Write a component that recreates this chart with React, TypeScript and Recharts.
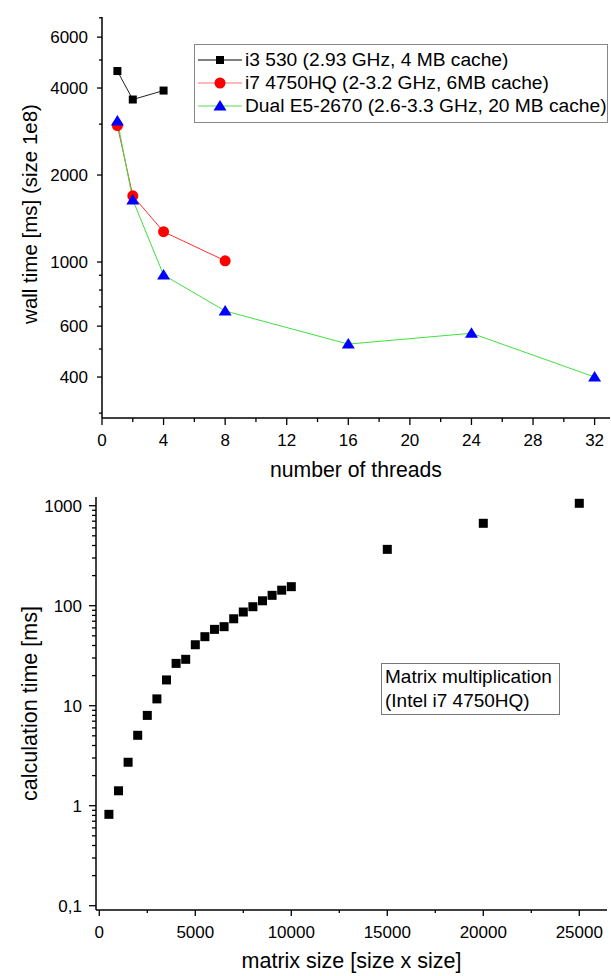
import React from 'react';
import { LineChart, Line, ScatterChart, Scatter, XAxis, YAxis, Legend, Label } from 'recharts';

const FONT = '"Liberation Sans", Arial, Helvetica, sans-serif';

// top plot: wall time vs number of threads
const threadsI3 = [1, 2, 4];
const wallI3 = [4580, 3650, 3920];
const threadsI7 = [1, 2, 4, 8];
const wallI7 = [2965, 1694, 1273, 1010];
const threadsE5 = [1, 2, 4, 8, 16, 24, 32];
const wallE5 = [3077, 1640, 902, 677, 520, 567, 400];

const threadTicks = [0, 2, 4, 6, 8, 10, 12, 14, 16, 18, 20, 22, 24, 26, 28, 30, 32];
const threadLabels = [0, 4, 8, 12, 16, 20, 24, 28, 32];
const wallTicks = [300, 400, 500, 600, 700, 800, 900, 1000, 2000, 3000, 4000, 5000, 6000, 7000];
const wallLabels = [400, 600, 1000, 2000, 4000, 6000];

const legendNames = [
  'i3 530 (2.93 GHz, 4 MB cache)',
  'i7 4750HQ (2-3.2 GHz, 6MB cache)',
  'Dual E5-2670 (2.6-3.3 GHz, 20 MB cache)',
];

// bottom plot: matrix multiplication time
const matrixSizes = [500, 1000, 1500, 2000, 2500, 3000, 3500, 4000, 4500, 5000, 5500, 6000, 6500, 7000, 7500, 8000, 8500, 9000, 9500, 10000, 15000, 20000, 25000];
const calcTimes = [0.82, 1.41, 2.72, 5.06, 8.0, 11.7, 18.1, 26.5, 29.1, 40.7, 49, 58, 61.7, 74, 86.5, 97.7, 112, 127, 143, 155, 366, 667, 1057];

const sizeTicks = [0, 2500, 5000, 7500, 10000, 12500, 15000, 17500, 20000, 22500, 25000];
const sizeLabels = [0, 5000, 10000, 15000, 20000, 25000];
const timeTicks = [0.1, 0.2, 0.3, 0.4, 0.5, 0.6, 0.7, 0.8, 0.9, 1, 2, 3, 4, 5, 6, 7, 8, 9, 10, 20, 30, 40, 50, 60, 70, 80, 90, 100, 200, 300, 400, 500, 600, 700, 800, 900, 1000];
const timeLabels = [0.1, 1, 10, 100, 1000];

const i3Data = threadsI3.map((x, i) => ({ x, y: wallI3[i] }));
const i7Data = threadsI7.map((x, i) => ({ x, y: wallI7[i] }));
const e5Data = threadsE5.map((x, i) => ({ x, y: wallE5[i] }));
const matrixData = matrixSizes.map((x, i) => ({ x, y: calcTimes[i] }));

const fmt = (v: number) => String(v).replace('.', ',');

const XTick = (props: any) => {
  const { x, y, payload, labels, major = 7, minor = 4, dy = 28 } = props;
  const isMajor = labels.includes(payload.value);
  return (
    <g>
      <line x1={x} x2={x} y1={y} y2={y + (isMajor ? major : minor)} stroke="#000" strokeWidth={1.3} />
      {isMajor && (
        <text x={x} y={y + dy} textAnchor="middle" fontSize={17} fontFamily={FONT} fill="#000">
          {fmt(payload.value)}
        </text>
      )}
    </g>
  );
};

const YTick = (props: any) => {
  const { x, y, payload, labels, major = 5, minor = 3 } = props;
  const isMajor = labels.includes(payload.value);
  return (
    <g>
      <line x1={x - (isMajor ? major : minor)} x2={x} y1={y} y2={y} stroke="#000" strokeWidth={1.3} />
      {isMajor && (
        <text x={x - 14} y={y + 6} textAnchor="end" fontSize={17} fontFamily={FONT} fill="#000">
          {fmt(payload.value)}
        </text>
      )}
    </g>
  );
};

const square = (size: number) => (p: any) => (
  <rect key={`s-${p.index}-${p.cx}`} x={p.cx - size / 2} y={p.cy - size / 2} width={size} height={size} fill="#000" />
);
const circle = (p: any) => <circle key={`c-${p.index}`} cx={p.cx} cy={p.cy} r={5.5} fill="#ff0000" />;
const triangle = (p: any) => (
  <polygon
    key={`t-${p.index}`}
    points={`${p.cx},${p.cy - 6} ${p.cx - 6.5},${p.cy + 4.5} ${p.cx + 6.5},${p.cy + 4.5}`}
    fill="#0000ff"
  />
);

function LegendBox() {
  const markers = [
    <rect x={19} y={6} width={8} height={8} fill="#000" />,
    <circle cx={23} cy={10} r={5.5} fill="#ff0000" />,
    <polygon points="23,4 16.5,14.5 29.5,14.5" fill="#0000ff" />,
  ];
  const lineColors = ['#000', '#ff7070', '#50e050'];
  return (
    <div style={{ border: '1px solid #888', background: '#fff', width: 412, height: 74, paddingTop: 3, boxSizing: 'content-box' }}>
      {legendNames.map((name, i) => (
        <div key={name} style={{ display: 'flex', alignItems: 'center', height: 23.3 }}>
          <svg width={48} height={20} style={{ marginLeft: 2 }}>
            <line x1={1} x2={45} y1={10} y2={10} stroke={lineColors[i]} strokeWidth={1} />
            {markers[i]}
          </svg>
          <span style={{ fontFamily: FONT, fontSize: 19.2, color: '#000', whiteSpace: 'nowrap', lineHeight: '20px' }}>{name}</span>
        </div>
      ))}
    </div>
  );
}

export default function App() {
  return (
    <div style={{ position: 'absolute', left: 0, top: 0, width: 611, height: 976, background: '#fff', overflow: 'hidden' }}>
      <div style={{ position: 'absolute', left: 0, top: 0 }}>
        <LineChart width={611} height={492} margin={{ top: 17, right: 1, left: 0, bottom: 0 }}>
          <XAxis
            type="number"
            dataKey="x"
            domain={[0, 33]}
            allowDataOverflow
            ticks={threadTicks}
            interval={0}
            height={74}
            tickSize={0}
            tickMargin={0}
            tickLine={false}
            axisLine={{ stroke: '#000', strokeWidth: 1.5 }}
            tick={<XTick labels={threadLabels} major={7} minor={4} dy={28} />}
          >
            <Label
              content={(p: any) => (
                <text x={p.viewBox.x + p.viewBox.width / 2} y={p.viewBox.y + 59} textAnchor="middle" fontSize={21.2} fontFamily={FONT} fill="#000">
                  number of threads
                </text>
              )}
            />
          </XAxis>
          <YAxis
            type="number"
            dataKey="y"
            scale="log"
            domain={[288.6, 7044]}
            allowDataOverflow
            ticks={wallTicks}
            interval={0}
            width={102}
            tickSize={0}
            tickMargin={0}
            tickLine={false}
            axisLine={{ stroke: '#000', strokeWidth: 1.5 }}
            tick={<YTick labels={wallLabels} major={5} minor={3} />}
          >
            <Label
              content={(p: any) => {
                const cy = p.viewBox.y + p.viewBox.height / 2 - 3.5;
                return (
                  <text x={36.5} y={cy} transform={`rotate(-90 36.5 ${cy})`} textAnchor="middle" fontSize={20.5} fontFamily={FONT} fill="#000">
                    wall time [ms] (size 1e8)
                  </text>
                );
              }}
            />
          </YAxis>
          <Legend
            layout="horizontal"
            verticalAlign="middle"
            align="center"
            wrapperStyle={{ left: 194, top: 44, width: 414, height: 78 }}
            content={() => <LegendBox />}
          />
          <Line data={i3Data} dataKey="y" name={legendNames[0]} stroke="#222" strokeWidth={1} dot={square(8)} activeDot={false} isAnimationActive={false} />
          <Line data={i7Data} dataKey="y" name={legendNames[1]} stroke="#ff3030" strokeWidth={1} dot={circle} activeDot={false} isAnimationActive={false} />
          <Line data={e5Data} dataKey="y" name={legendNames[2]} stroke="#40e040" strokeWidth={1} dot={triangle} activeDot={false} isAnimationActive={false} />
        </LineChart>
      </div>

      <div style={{ position: 'absolute', left: 0, top: 480 }}>
        <ScatterChart width={611} height={496} margin={{ top: 17, right: 4, left: 0, bottom: 0 }}>
          <XAxis
            type="number"
            dataKey="x"
            domain={[-172, 26443]}
            allowDataOverflow
            ticks={sizeTicks}
            interval={0}
            height={66}
            tickSize={0}
            tickMargin={0}
            tickLine={false}
            axisLine={{ stroke: '#000', strokeWidth: 1.5 }}
            tick={<XTick labels={sizeLabels} major={6} minor={3} dy={27.5} />}
          >
            <Label
              content={(p: any) => (
                <text x={p.viewBox.x + p.viewBox.width / 2} y={p.viewBox.y + 58} textAnchor="middle" fontSize={21.5} fontFamily={FONT} fill="#000">
                  matrix size [size x size]
                </text>
              )}
            />
          </XAxis>
          <YAxis
            type="number"
            dataKey="y"
            scale="log"
            domain={[0.0906, 1222]}
            allowDataOverflow
            ticks={timeTicks}
            interval={0}
            width={96}
            tickSize={0}
            tickMargin={0}
            tickLine={false}
            axisLine={{ stroke: '#000', strokeWidth: 1.5 }}
            tick={<YTick labels={timeLabels} major={7} minor={4} />}
          >
            <Label
              content={(p: any) => {
                const cy = p.viewBox.y + p.viewBox.height / 2;
                return (
                  <text x={37} y={cy} transform={`rotate(-90 37 ${cy})`} textAnchor="middle" fontSize={21.5} fontFamily={FONT} fill="#000">
                    calculation time [ms]
                  </text>
                );
              }}
            />
          </YAxis>
          <Scatter data={matrixData} dataKey="y" fill="#000" shape={square(9)} isAnimationActive={false} />
        </ScatterChart>
      </div>

      <div
        style={{
          position: 'absolute',
          left: 381,
          top: 663,
          width: 174,
          height: 49,
          border: '1px solid #777',
          fontFamily: FONT,
          fontSize: 19,
          lineHeight: '24px',
          color: '#000',
          paddingLeft: 3,
          paddingTop: 1,
          whiteSpace: 'nowrap',
          boxSizing: 'content-box',
        }}
      >
        Matrix multiplication
        <br />
        (Intel i7 4750HQ)
      </div>
    </div>
  );
}
